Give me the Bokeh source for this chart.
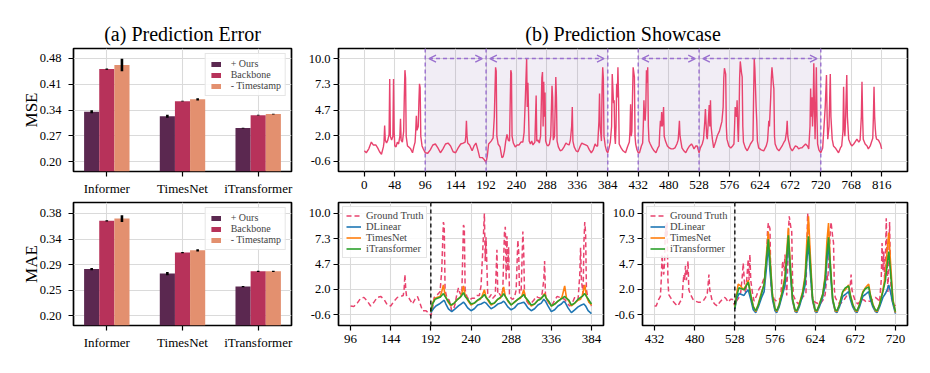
from bokeh.plotting import figure
from bokeh.layouts import column, row
from bokeh.models import (FixedTicker, Legend, LegendItem, BoxAnnotation, Span,
                          Arrow, OpenHead, Range1d)
from bokeh.embed import file_html
from bokeh.resources import INLINE

FONT = "Liberation Serif"

# ---------------- data: (a) prediction error ----------------
categories = ["Informer", "TimesNet", "iTransformer"]
variants = ["+ Ours", "Backbone", "- Timestamp"]
variant_colors = ["#5b2850", "#b7325a", "#e3906f"]

mse_ours = [0.335, 0.323, 0.291]
mse_backbone = [0.451, 0.364, 0.326]
mse_timestamp = [0.462, 0.369, 0.329]
mse_err_ours = [0.004, 0.004, 0.001]
mse_err_backbone = [0.002, 0.001, 0.001]
mse_err_timestamp = [0.017, 0.003, 0.001]

mae_ours = [0.282, 0.274, 0.251]
mae_backbone = [0.367, 0.311, 0.278]
mae_timestamp = [0.371, 0.315, 0.278]
mae_err_ours = [0.002, 0.003, 0.001]
mae_err_backbone = [0.001, 0.001, 0.001]
mae_err_timestamp = [0.006, 0.002, 0.001]

mse_ticks = [0.20, 0.27, 0.34, 0.41, 0.48]
mse_tick_labels = ["0.20", "0.27", "0.34", "0.41", "0.48"]
mae_ticks = [0.20, 0.245, 0.29, 0.335, 0.38]
mae_tick_labels = ["0.20", "0.25", "0.29", "0.34", "0.38"]

# ---------------- data: (b) prediction showcase ----------------
gt_points = [
    (0, 0.5), (3, 0.3), (7, 0.7), (11, 1.4), (14, 1.1), (18, 1.1), (21, 0.8), (24, 0.4), (27, 0.15),
    (30, 0.9), (31, 1.4), (32, 3.1), (33, 1.6), (35, 1.3), (37, 1.6), (39, 2.2), (40, 7.9), (41, 2.0),
    (43, 1.6), (45, 2.0), (46, 7.9), (47, 2.5), (48, 1.0), (50, 0.9), (52, 1.4), (54, 1.2), (56, 2.0),
    (57, 3.8), (58, 1.6), (60, 1.4), (62, 2.5), (63, 6.0), (64, 8.8), (65, 8.0), (66, 2.0), (68, 1.0),
    (70, 0.9), (73, 0.7), (76, 0.3), (78, 0.9), (80, 1.4), (81, 2.5), (82, 4.1), (83, 2.6), (85, 3.0),
    (86, 5.5), (87, 7.4), (88, 7.0), (89, 2.0), (91, 1.0), (93, 0.7), (96, 0.3),
    (100, 0.25), (104, 0.6), (108, 1.1), (112, 1.2), (116, 0.8), (120, 0.3), (124, 0.7), (128, 1.2),
    (132, 1.3), (136, 1.0), (140, 0.4), (144, 0.3), (148, 0.8), (152, 1.2), (156, 1.3), (159, 1.4),
    (160, 2.0), (161, 3.6), (162, 2.0), (163, 1.3), (166, 1.1), (170, 0.5), (173, 1.0), (176, 1.3),
    (179, 0.6), (182, -0.2), (186, -0.2), (189, -0.4), (192, -0.7),
    (194, 0.0), (196, 1.2), (200, 1.5), (203, 1.8), (205, 4.0), (207, 9.1), (208, 8.7), (209, 2.0),
    (211, 1.2), (214, 0.9), (217, -0.2), (219, -0.1), (221, 0.5), (223, 1.5), (225, 2.2), (227, 1.6),
    (229, 1.5), (231, 8.8), (232, 8.5), (233, 2.0), (235, 1.3), (238, 0.9), (241, 1.1), (244, 1.1),
    (247, 1.4), (250, 1.4), (252, 2.4), (254, 6.0), (256, 10.0), (257, 5.0), (258, 7.5), (259, 4.5),
    (260, 1.5), (262, 1.2), (264, 1.5), (266, 1.1), (269, 1.4), (271, 6.2), (272, 1.5), (274, 1.6),
    (276, 1.3), (278, 2.0), (280, 8.0), (281, 8.6), (282, 3.0), (283, 7.6), (284, 4.0), (285, 6.5),
    (286, 1.5), (288, 1.1), (290, 1.0), (292, 1.2), (294, 2.0), (296, 7.2), (297, 6.0), (298, 1.6),
    (300, 2.0), (302, 8.1), (303, 6.0), (304, 1.5), (306, 0.9), (309, 0.5), (312, 0.6), (315, 0.9),
    (318, 1.3), (320, 1.2), (323, 1.1), (325, 1.6), (327, 3.0), (328, 5.0), (329, 1.5), (331, 0.9),
    (334, 0.5), (337, 0.4), (340, 0.9), (343, 1.3), (346, 1.2), (349, 1.1), (352, 1.0), (355, 0.6),
    (358, 0.3), (361, 0.6), (364, 1.2), (366, 1.0), (368, 1.0), (370, 3.5), (371, 6.4), (372, 3.0),
    (374, 1.5), (375, 7.0), (376, 9.1), (377, 8.0), (378, 2.0), (380, 1.0), (382, 0.5), (384, 0.3),
    (386, 0.8), (388, 1.4), (390, 3.0), (391, 8.4), (392, 7.0), (393, 5.4), (394, 5.7), (395, 2.0),
    (396, 1.2), (397, 3.0), (398, 7.4), (399, 6.0), (400, 9.1), (401, 6.0), (402, 1.2), (405, 0.8),
    (408, 0.5), (412, 0.3), (415, 0.9), (418, 1.4), (419, 2.5), (420, 5.3), (421, 2.0), (422, 2.5),
    (423, 6.0), (424, 9.1), (426, 8.1), (427, 2.0), (428, 1.2), (430, 0.6), (432, 0.3), (434, 0.3),
    (437, 1.0), (439, 1.3), (440, 3.0), (441, 5.7), (442, 4.0), (443, 3.6), (444, 5.0), (445, 8.8),
    (446, 7.5), (447, 9.1), (448, 3.0), (449, 1.5), (451, 1.2), (454, 0.8), (457, 0.5), (460, 0.3),
    (463, 0.8), (465, 1.0), (466, 2.5), (467, 3.6), (468, 3.0), (469, 4.5), (470, 3.0), (471, 3.6),
    (472, 5.0), (473, 2.0), (475, 1.5), (478, 1.0), (481, 0.8), (484, 0.7), (487, 0.7), (490, 0.8),
    (493, 1.2), (495, 1.6), (496, 2.5), (497, 3.6), (498, 2.0), (499, 1.6), (501, 0.8), (504, 0.5),
    (507, 0.3), (510, 0.7), (513, 1.0), (516, 1.2), (518, 1.0), (520, 0.7), (523, 1.0), (525, 1.0),
    (528, 0.3),
    (530, 0.8), (533, 1.2), (535, 1.7), (537, 3.5), (538, 4.8), (540, 2.0), (541, 1.7), (543, 4.0),
    (544, 5.2), (545, 3.0), (546, 5.7), (547, 3.0), (549, 1.7), (551, 0.8), (554, 1.4), (557, 2.1),
    (560, 2.5), (562, 3.0), (564, 3.5), (566, 5.0), (567, 8.0), (568, 9.0), (570, 8.4), (571, 3.0),
    (572, 1.7), (575, 1.0), (578, 0.8), (581, 1.0), (583, 1.2), (584, 3.0), (585, 5.0), (587, 4.0),
    (588, 5.7), (589, 3.0), (590, 1.4), (591, 4.0), (592, 8.0), (593, 9.7), (595, 8.5), (596, 8.1),
    (597, 3.0), (598, 1.4), (601, 0.8), (604, 0.5), (607, 0.9), (609, 1.2), (612, 1.5), (613, 1.6),
    (614, 6.0), (615, 10.0), (616, 9.0), (618, 5.0), (619, 3.6), (620, 1.5), (622, 0.8), (626, 0.6),
    (630, 0.5), (634, 1.0), (636, 1.5), (637, 2.5), (638, 3.6), (639, 3.0), (641, 6.0), (642, 8.0),
    (643, 9.1), (645, 7.5), (646, 6.9), (647, 2.0), (648, 1.2), (651, 0.7), (654, 0.5), (657, 0.8),
    (659, 1.0), (662, 1.4), (664, 1.6), (666, 2.5), (667, 3.6), (668, 2.0), (669, 1.6), (672, 0.8),
    (675, 0.5), (678, 0.8), (680, 1.0), (683, 0.9), (685, 0.7), (688, 0.8), (690, 0.8), (693, 1.0),
    (696, 1.2), (699, 1.0), (701, 0.7), (703, 3.0), (704, 6.9), (705, 4.0), (706, 6.0), (707, 3.0),
    (708, 5.0), (709, 9.5), (710, 5.0), (711, 1.7), (712, 5.0), (713, 9.1), (714, 4.0), (715, 1.2),
    (717, 0.6), (720, 0.3),
    (723, 0.8), (725, 2.9), (727, 5.0), (729, 8.3), (730, 4.0), (731, 1.7), (733, 3.0), (735, 8.4),
    (736, 4.0), (738, 1.7), (740, 1.0), (743, 0.8), (746, 0.5), (748, 0.3), (751, 0.8), (753, 1.0),
    (755, 2.5), (756, 7.1), (757, 3.0), (758, 2.0), (759, 3.5), (760, 6.0), (761, 8.3), (762, 4.0),
    (764, 1.7), (767, 1.2), (769, 1.0), (772, 1.2), (774, 1.4), (777, 1.7), (780, 1.4), (782, 1.6),
    (784, 4.0), (785, 7.6), (786, 4.0), (787, 1.7), (790, 1.2), (793, 1.0), (795, 0.7), (798, 1.0),
    (800, 1.4), (802, 1.8), (803, 4.0), (804, 7.1), (805, 4.0), (806, 2.8), (807, 2.0), (808, 1.7),
    (811, 1.6), (814, 1.2), (816, 0.7),
]

# highlighted windows (look-back, horizon) and split points of the showcase panels
windows = [(96, 192), (192, 384), (432, 528), (528, 720)]
forecast_starts = [192, 528]
panel_ranges = [(96, 384), (432, 720)]

# predictions, window 1 (192-384)
dlinear_1 = [
    (192, -0.4), (195, 0.0), (198, 0.3), (202, 0.5), (205, 0.7), (208, 0.9), (210, 0.5), (213, 0.0),
    (217, -0.3), (221, 0.0), (225, 0.3), (228, 0.5), (231, 0.7), (233, 0.5), (236, 0.1), (240, -0.2),
    (244, 0.0), (248, 0.4), (252, 0.5), (256, 0.7), (258, 0.6), (261, 0.3), (264, 0.0), (268, 0.2),
    (272, 0.5), (276, 0.6), (279, 0.8), (281, 0.6), (284, 0.2), (288, -0.1), (292, 0.1), (296, 0.5),
    (300, 0.6), (303, 0.7), (305, 0.5), (308, 0.1), (312, -0.2), (316, 0.0), (320, 0.4), (324, 0.6),
    (327, 1.0), (329, 0.8), (332, 0.3), (336, -0.3), (340, -0.1), (344, 0.3), (348, 0.5), (351, 0.8),
    (353, 0.6), (356, 0.1), (360, -0.4), (364, -0.1), (368, 0.2), (372, 0.4), (375, 0.5), (377, 0.3),
    (380, -0.2), (384, -0.5),
]
timesnet_1 = [
    (192, -0.3), (194, 0.6), (197, 1.1), (200, 1.2), (203, 1.3), (205, 1.8), (207, 2.5), (209, 1.4),
    (212, 0.8), (216, 0.3), (220, 0.6), (224, 1.0), (227, 1.2), (229, 1.6), (231, 2.4), (233, 1.4),
    (236, 0.9), (240, 0.4), (244, 0.6), (248, 0.9), (251, 1.0), (253, 1.3), (256, 2.0), (258, 1.2),
    (261, 0.8), (264, 0.4), (268, 0.6), (272, 1.0), (275, 1.1), (277, 1.5), (279, 2.3), (281, 1.3),
    (284, 0.8), (288, 0.4), (292, 0.7), (296, 1.0), (299, 1.1), (301, 1.4), (303, 2.0), (305, 1.2),
    (308, 0.8), (312, 0.3), (316, 0.5), (320, 0.9), (323, 1.0), (325, 1.2), (328, 1.6), (330, 1.1),
    (333, 0.7), (336, 0.3), (340, 0.5), (344, 0.8), (347, 1.0), (349, 1.3), (352, 2.4), (354, 1.2),
    (357, 0.8), (360, 0.3), (364, 0.6), (368, 0.9), (371, 1.0), (373, 1.4), (376, 2.5), (378, 1.3),
    (381, 0.7), (384, 0.4),
]
itransformer_1 = [
    (192, -0.3), (194, 0.5), (197, 1.0), (200, 1.1), (203, 1.2), (205, 1.4), (207, 1.6), (209, 1.3),
    (212, 0.9), (216, 0.4), (220, 0.6), (224, 1.0), (227, 1.2), (229, 1.4), (231, 1.7), (233, 1.3),
    (236, 1.0), (240, 0.5), (244, 0.6), (248, 0.9), (251, 1.1), (253, 1.2), (256, 1.5), (258, 1.2),
    (261, 0.9), (264, 0.5), (268, 0.6), (272, 1.0), (275, 1.2), (277, 1.3), (279, 1.6), (281, 1.3),
    (284, 0.9), (288, 0.4), (292, 0.7), (296, 1.0), (299, 1.2), (301, 1.3), (303, 1.5), (305, 1.2),
    (308, 0.9), (312, 0.4), (316, 0.5), (320, 0.9), (323, 1.0), (325, 1.2), (328, 1.5), (330, 1.1),
    (333, 0.8), (336, 0.3), (340, 0.5), (344, 0.8), (347, 1.0), (349, 1.1), (352, 1.3), (354, 1.1),
    (357, 0.9), (360, 0.4), (364, 0.6), (368, 1.0), (371, 1.2), (373, 1.3), (376, 1.6), (378, 1.3),
    (381, 0.9), (384, 0.5),
]

# predictions, window 2 (528-720)
dlinear_2 = [
    (528, 0.0), (530, 1.0), (533, 1.6), (536, 1.5), (539, 1.4), (541, 1.7), (544, 2.0), (547, 1.0),
    (550, -0.1), (553, -0.4), (556, 0.2), (560, 1.2), (563, 1.8), (566, 4.5), (568, 6.8), (570, 4.0),
    (573, 1.0), (576, -0.2), (578, -0.4), (581, 0.2), (585, 1.5), (588, 2.5), (590, 5.0), (592, 7.0),
    (594, 4.0), (597, 0.8), (600, -0.3), (602, -0.4), (605, 0.2), (609, 1.4), (612, 2.5), (614, 5.0),
    (616, 7.0), (618, 4.0), (621, 0.8), (624, -0.3), (626, -0.4), (629, 0.2), (633, 1.2), (636, 2.5),
    (638, 5.0), (640, 6.8), (642, 4.0), (645, 0.8), (648, -0.3), (650, -0.4), (653, 0.2), (657, 1.3),
    (660, 1.5), (664, 1.8), (666, 1.0), (669, 0.2), (672, -0.3), (674, -0.4), (677, 0.2), (681, 1.3),
    (684, 1.5), (688, 1.8), (690, 1.0), (693, 0.2), (696, -0.3), (698, -0.4), (701, 0.2), (705, 1.2),
    (708, 1.6), (710, 2.0), (712, 2.5), (714, 1.8), (717, 0.5), (720, -0.5),
]
timesnet_2 = [
    (528, 0.2), (530, 1.5), (532, 2.6), (535, 2.4), (538, 2.0), (541, 2.4), (544, 3.0), (547, 1.5),
    (550, 0.3), (553, -0.3), (556, 0.5), (560, 1.8), (563, 2.5), (566, 6.0), (568, 8.1), (570, 5.5),
    (573, 1.5), (576, 0.0), (578, -0.3), (581, 0.5), (585, 2.0), (588, 3.5), (590, 6.0), (592, 8.5),
    (594, 5.0), (597, 1.0), (600, -0.2), (602, -0.3), (605, 0.5), (609, 1.8), (612, 3.5), (614, 7.0),
    (616, 9.7), (618, 6.0), (621, 1.0), (624, -0.2), (626, -0.3), (629, 0.5), (633, 1.5), (636, 3.5),
    (638, 7.0), (640, 9.0), (642, 5.0), (645, 1.0), (648, -0.2), (650, -0.3), (653, 0.5), (657, 1.8),
    (660, 2.0), (664, 2.5), (666, 1.5), (669, 0.5), (672, -0.2), (674, -0.3), (677, 0.5), (681, 1.8),
    (684, 2.2), (688, 2.6), (690, 1.5), (693, 0.5), (696, -0.2), (698, -0.3), (701, 0.5), (705, 2.0),
    (708, 3.5), (710, 6.0), (712, 8.0), (714, 5.0), (717, 1.0), (720, -0.4),
]
itransformer_2 = [
    (528, 0.1), (530, 1.3), (533, 2.2), (536, 2.1), (539, 2.0), (541, 2.3), (544, 2.8), (547, 1.4),
    (550, 0.2), (553, -0.2), (556, 0.4), (560, 1.6), (563, 2.6), (566, 5.5), (568, 7.3), (570, 5.0),
    (573, 1.3), (576, 0.0), (578, -0.2), (581, 0.4), (585, 1.8), (588, 3.2), (590, 5.5), (592, 7.7),
    (594, 4.8), (597, 1.0), (600, -0.1), (602, -0.2), (605, 0.4), (609, 1.6), (612, 3.2), (614, 5.8),
    (616, 7.6), (618, 5.0), (621, 1.0), (624, -0.1), (626, -0.2), (629, 0.4), (633, 1.5), (636, 3.2),
    (638, 5.8), (640, 7.5), (642, 4.8), (645, 1.0), (648, -0.1), (650, -0.2), (653, 0.4), (657, 1.8),
    (660, 2.2), (664, 2.4), (666, 1.4), (669, 0.4), (672, -0.1), (674, -0.2), (677, 0.4), (681, 1.7),
    (684, 2.1), (688, 2.3), (690, 1.4), (693, 0.4), (696, -0.1), (698, -0.2), (701, 0.4), (705, 1.8),
    (708, 3.0), (710, 4.5), (712, 6.0), (714, 4.0), (717, 0.8), (720, -0.3),
]

showcase_ticks = [-0.6, 2.05, 4.7, 7.35, 10.0]
showcase_tick_labels = ["-0.6", "2.0", "4.7", "7.3", "10.0"]
top_xticks = list(range(0, 817, 48))
mid_xticks = list(range(96, 385, 48))
right_xticks = list(range(432, 721, 48))

GT_COLOR = "#e8436e"
MODEL_COLORS = {"DLinear": "#1f77b4", "TimesNet": "#ff7f0e", "iTransformer": "#2ca02c"}
PURPLE = "#9a70cf"
GRID = "#dadada"


def make_fig(fw, fh, bl, br, bt, bb, xr, yr, title=None):
    kw = dict(frame_width=fw, frame_height=fh, min_border_left=bl, min_border_right=br,
              min_border_top=bt, min_border_bottom=bb, x_range=Range1d(*xr), y_range=Range1d(*yr),
              output_backend="svg", toolbar_location=None)
    if title:
        kw["title"] = title
    p = figure(**kw)
    p.outline_line_color = "black"
    p.outline_line_width = 1.7
    p.outline_line_alpha = 1.0
    p.background_fill_color = "white"
    p.border_fill_color = "white"
    for ax in (p.xaxis[0], p.yaxis[0]):
        ax.axis_line_color = None
        ax.major_tick_line_color = "black"
        ax.major_tick_line_width = 1.2
        ax.major_tick_out = 5
        ax.major_tick_in = 0
        ax.minor_tick_line_color = None
        ax.major_label_text_font = FONT
        ax.major_label_text_color = "black"
        ax.axis_label_text_font = FONT
        ax.axis_label_text_font_style = "normal"
        ax.axis_label_text_color = "black"
    p.xaxis.major_label_text_font_size = "13px"
    p.yaxis.major_label_text_font_size = "12.5px"
    p.xaxis.major_label_standoff = 4
    p.xgrid.grid_line_color = GRID
    p.ygrid.grid_line_color = GRID
    p.xgrid.grid_line_width = 1.1
    p.ygrid.grid_line_width = 1.1
    if title:
        p.title.align = "center"
        p.title.text_font = FONT
        p.title.text_font_size = "20px"
        p.title.text_font_style = "normal"
        p.title.text_color = "black"
        p.title.standoff = 7
    return p


def bar_panel(ours, backbone, stamp, e_ours, e_back, e_stamp, ticks, tick_labels, ylabel, yr, bt, title=None):
    p = make_fig(218, 123, 73, 14, bt, 24, (-0.44, 2.44), yr, title)
    p.xaxis.ticker = FixedTicker(ticks=[0, 1, 2])
    p.xaxis.major_label_overrides = {i: c for i, c in enumerate(categories)}
    p.yaxis.ticker = FixedTicker(ticks=ticks)
    p.yaxis.major_label_overrides = {t: l for t, l in zip(ticks, tick_labels)}
    p.yaxis.major_label_standoff = 7
    p.yaxis.axis_label = ylabel
    p.yaxis.axis_label_text_font_size = "17px"
    p.yaxis.axis_label_standoff = -4
    items = []
    for k, (vals, errs) in enumerate([(ours, e_ours), (backbone, e_back), (stamp, e_stamp)]):
        xs = [i + (k - 1) * 0.2 for i in range(len(categories))]
        r = p.vbar(x=xs, top=vals, bottom=0, width=0.2, fill_color=variant_colors[k],
                   line_color=None)
        p.segment(x0=xs, x1=xs, y0=[v - e for v, e in zip(vals, errs)],
                  y1=[v + e for v, e in zip(vals, errs)], line_color="black", line_width=2.6)
        items.append(LegendItem(label=variants[k], renderers=[r]))
    leg = Legend(items=items, location="top_right", margin=5, padding=4, spacing=0,
                 glyph_width=12, glyph_height=6, label_height=9, label_width=40,
                 label_standoff=9, label_text_font=FONT, label_text_font_size="10px",
                 border_line_color="#cccccc", border_line_width=1,
                 background_fill_alpha=0.85)
    p.add_layout(leg)
    return p


def showcase_style(p, xticks, yticks, ylabels):
    p.xaxis.ticker = FixedTicker(ticks=xticks)
    p.yaxis.ticker = FixedTicker(ticks=yticks)
    p.yaxis.major_label_overrides = {t: l for t, l in zip(yticks, ylabels)}
    p.yaxis.major_label_standoff = 3


# ---- (a) panels ----
pa1 = bar_panel(mse_ours, mse_backbone, mse_timestamp, mse_err_ours, mse_err_backbone,
                mse_err_timestamp, mse_ticks, mse_tick_labels, "MSE", (0.173, 0.507), 48,
                "(a) Prediction Error")
pa2 = bar_panel(mae_ours, mae_backbone, mae_timestamp, mae_err_ours, mae_err_backbone,
                mae_err_timestamp, mae_ticks, mae_tick_labels, "MAE", (0.1824, 0.3994), 4)

# ---- (b) top overview ----
gt_x = [p_[0] for p_ in gt_points]
gt_y = [p_[1] for p_ in gt_points]

pb1 = make_fig(569, 123, 33, 10, 48, 24, (-40.8, 856.8), (-1.63, 11.03), "(b) Prediction Showcase")
showcase_style(pb1, top_xticks, showcase_ticks, showcase_tick_labels)
for (a, b) in windows:
    pb1.add_layout(BoxAnnotation(left=a, right=b, fill_color="#7b5ea7", fill_alpha=0.11,
                                 line_color=None, level="underlay"))
for loc in sorted(set([w[0] for w in windows] + [w[1] for w in windows])):
    pb1.add_layout(Span(location=loc, dimension="height", line_color=PURPLE, line_width=1.4,
                        line_dash="4 3"))
pb1.line(gt_x, gt_y, line_color=GT_COLOR, line_width=1.4)
for (a, b) in windows:
    pb1.add_layout(Arrow(start=OpenHead(size=7, line_color=PURPLE, line_width=1.4),
                         end=OpenHead(size=7, line_color=PURPLE, line_width=1.4),
                         x_start=a + 6, x_end=b - 6, y_start=showcase_ticks[-1],
                         y_end=showcase_ticks[-1], line_color=PURPLE, line_width=1.4,
                         line_dash="4 3"))


def detail_panel(bl, br, xr, yr, xticks, lo, hi, split, preds):
    p = make_fig(265, 123, bl, br, 4, 24, xr, yr)
    showcase_style(p, xticks, showcase_ticks, showcase_tick_labels)
    sx = [x for x in gt_x if lo <= x <= hi]
    sy = [y for x, y in zip(gt_x, gt_y) if lo <= x <= hi]
    items = []
    r = p.line(sx, sy, line_color=GT_COLOR, line_width=1.5, line_dash="5 3")
    items.append(LegendItem(label="Ground Truth", renderers=[r]))
    for name, pts in preds:
        r = p.line([q[0] for q in pts], [q[1] for q in pts], line_color=MODEL_COLORS[name],
                   line_width=1.6)
        items.append(LegendItem(label=name, renderers=[r]))
    p.add_layout(Span(location=split, dimension="height", line_color="black", line_width=1.3,
                      line_dash="4 3"))
    leg = Legend(items=items, location="top_left", margin=4, padding=3, spacing=0,
                 glyph_width=15, glyph_height=9, label_height=9, label_width=40,
                 label_standoff=5, label_text_font=FONT, label_text_font_size="10.5px",
                 border_line_color="#cccccc", border_line_width=1,
                 background_fill_alpha=0.85)
    p.add_layout(leg)
    return p


pb2 = detail_panel(33, 2, (81.6, 398.4), (-1.75, 11.15), mid_xticks, panel_ranges[0][0],
                   panel_ranges[0][1], forecast_starts[0],
                   [("DLinear", dlinear_1), ("TimesNet", timesnet_1), ("iTransformer", itransformer_1)])
pb3 = detail_panel(37, 10, (417.6, 734.4), (-1.75, 11.15), right_xticks, panel_ranges[1][0],
                   panel_ranges[1][1], forecast_starts[1],
                   [("DLinear", dlinear_2), ("TimesNet", timesnet_2), ("iTransformer", itransformer_2)])

layout = column(row(pa1, pb1), row(pa2, pb2, pb3))
open("out.html", "w").write(file_html(layout, INLINE))
